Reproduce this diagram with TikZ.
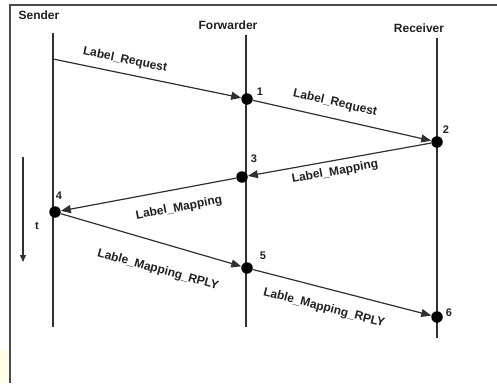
\documentclass[tikz,border=0pt]{standalone}
\usepackage{fontspec}
\setmainfont{Liberation Sans}
\usetikzlibrary{arrows.meta}
\definecolor{linegray}{HTML}{303030}
\definecolor{framegray}{HTML}{4A4A4A}
\definecolor{txt}{HTML}{202020}
\definecolor{paleyellow}{HTML}{FFFDE3}
\begin{document}
\begin{tikzpicture}[x=1bp,y=-1bp,
  lifeline/.style={draw=linegray, line width=1.4bp},
  msg/.style={draw=linegray, line width=1.2bp, -{Triangle[length=10bp,width=8bp]}},
  dot/.style={circle, fill=black, inner sep=0pt, minimum size=11.5bp},
  head/.style={font=\bfseries\fontsize{12bp}{14bp}\selectfont, text=txt, inner sep=0pt},
  lbl/.style={font=\bfseries\fontsize{12bp}{14bp}\selectfont, text=txt, inner sep=0pt},
  num/.style={font=\bfseries\fontsize{11bp}{13bp}\selectfont, text=txt, inner sep=0pt}]
\useasboundingbox (0,0) rectangle (497,383);
\fill[white] (0,0) rectangle (497,383);
\fill[paleyellow] (0,350) rectangle (8,383);
% frame
\coordinate (fTL) at (10,5);
\coordinate (fTR) at (497,5);
\coordinate (fBL) at (10,383);
\draw[draw=framegray, line width=1.5bp] (fTR) -- (fTL) -- (fBL);
% headers
\node[head] (hS) at (39,15) {Sender};
\node[head] (hF) at (228,25) {Forwarder};
\node[head] (hR) at (419,28) {Receiver};
% lifelines
\coordinate (sT) at (53,33);  \coordinate (sB) at (53,327);
\coordinate (fT) at (246,35); \coordinate (fB) at (246,327);
\coordinate (rT) at (437,38); \coordinate (rB) at (437,338);
\draw[lifeline] (sT) -- (sB);
\draw[lifeline] (fT) -- (fB);
\draw[lifeline] (rT) -- (rB);
% dots
\coordinate (s0) at (53,59);
\node[dot] (d1) at (247,99) {};
\node[dot] (d2) at (437,142) {};
\node[dot] (d3) at (242,177) {};
\node[dot] (d4) at (55,212) {};
\node[dot] (d5) at (247,268) {};
\node[dot] (d6) at (437,317) {};
% numbers
\node[num] (n1) at (260,92) {1};
\node[num] (n2) at (446,130) {2};
\node[num] (n3) at (254,159) {3};
\node[num] (n4) at (59,196) {4};
\node[num] (n5) at (263,256) {5};
\node[num] (n6) at (449,313) {6};
% messages
\draw[msg] (s0) -- (d1);
\draw[msg] (d1) -- (d2);
\draw[msg] (d2) -- (d3);
\draw[msg] (d3) -- (d4);
\draw[msg] (d4) -- (d5);
\draw[msg] (d5) -- (d6);
% message labels
\node[lbl, rotate=-11.5] (l1) at (125,60) {Label\_Request};
\node[lbl, rotate=-12.8] (l2) at (335,103) {Label\_Request};
\node[lbl, rotate=10.2] (l3) at (335,172) {Label\_Mapping};
\node[lbl, rotate=10.6] (l4) at (179,208) {Label\_Mapping};
\node[lbl, rotate=-15.5] (l5) at (158,270) {Lable\_Mapping\_RPLY};
\node[lbl, rotate=-14.5] (l6) at (324,308) {Lable\_Mapping\_RPLY};
% time arrow
\coordinate (t0) at (23,157);
\coordinate (t1) at (23,262);
\draw[draw=linegray, line width=1.2bp, -{Triangle[length=7bp,width=6bp]}] (t0) -- (t1);
\node[num] (tl) at (37,226) {t};
\end{tikzpicture}
\end{document}
